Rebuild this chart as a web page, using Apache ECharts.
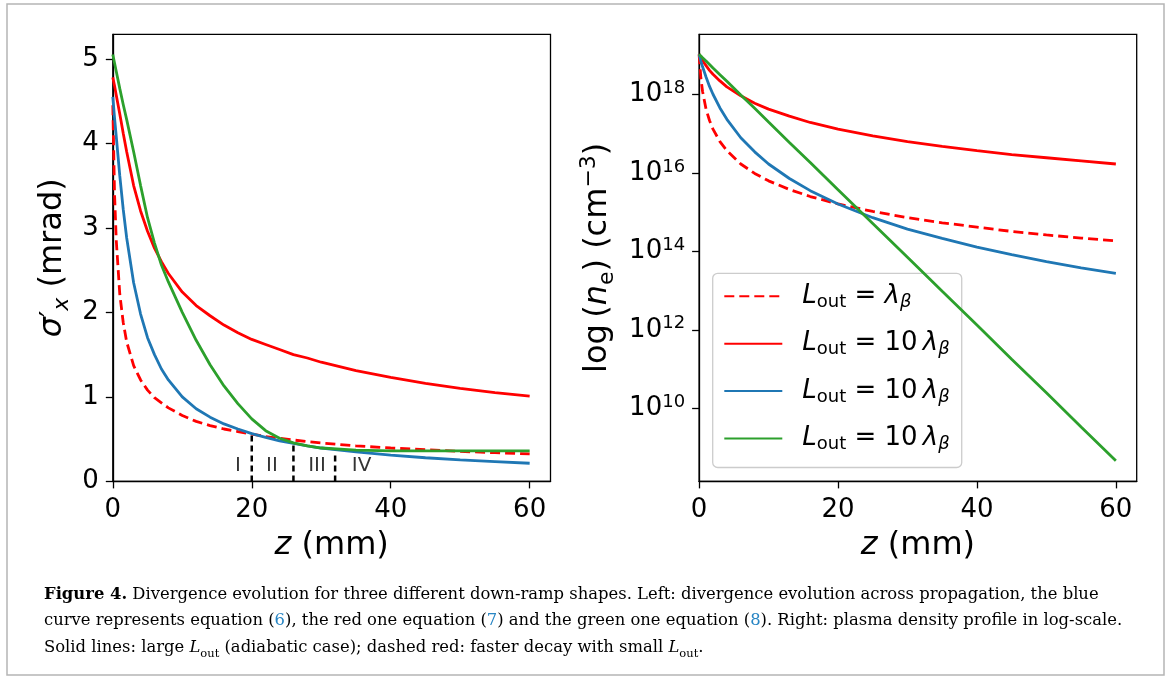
<!DOCTYPE html>
<html>
<head>
<meta charset="utf-8">
<script src="https://cdn.jsdelivr.net/npm/echarts@6/dist/echarts.min.js"></script>
<style>
html, body { margin: 0; padding: 0; background: #fff; }
#main { width: 1167px; height: 680px; }
</style>
</head>
<body>
<div id="main"></div>
<script>
// ---- data ----
// left panel: divergence sigma'_x (mrad) vs z (mm)
var zL = [0, 0.25, 0.5, 1, 1.5, 2, 3, 4, 5, 6, 7, 8, 10, 12, 14, 16, 18, 20, 22, 24, 26, 28, 30, 35, 40, 45, 50, 55, 60];
var rdL = [4.45, 3.4, 2.85, 2.22, 1.88, 1.65, 1.37, 1.2, 1.08, 0.99, 0.93, 0.87, 0.78, 0.71, 0.66, 0.62, 0.59, 0.56, 0.53, 0.51, 0.49, 0.47, 0.455, 0.42, 0.395, 0.375, 0.355, 0.34, 0.325];
var rsL = [4.78, 4.68, 4.57, 4.35, 4.12, 3.9, 3.5, 3.2, 2.96, 2.76, 2.6, 2.46, 2.24, 2.08, 1.96, 1.85, 1.76, 1.68, 1.62, 1.56, 1.5, 1.46, 1.41, 1.31, 1.23, 1.16, 1.1, 1.05, 1.01];
var blL = [4.55, 4.3, 4.08, 3.62, 3.22, 2.88, 2.35, 1.98, 1.7, 1.5, 1.33, 1.2, 1.0, 0.86, 0.76, 0.68, 0.62, 0.565, 0.52, 0.48, 0.45, 0.42, 0.395, 0.35, 0.31, 0.28, 0.255, 0.235, 0.215];
var glL = [5.05, 4.95, 4.85, 4.65, 4.46, 4.28, 3.9, 3.5, 3.12, 2.82, 2.56, 2.36, 2.0, 1.67, 1.38, 1.13, 0.92, 0.74, 0.6, 0.51, 0.455, 0.42, 0.395, 0.37, 0.362, 0.36, 0.36, 0.361, 0.362];

// right panel: log10 of n_e (cm^-3) vs z (mm)
var zR = [0, 0.25, 0.5, 1, 1.5, 2, 3, 4, 6, 8, 10, 13, 16, 20, 25, 30, 35, 40, 45, 50, 55, 60];
var rdR = [19.03, 18.43, 18.08, 17.63, 17.34, 17.12, 16.8, 16.57, 16.23, 15.99, 15.8, 15.58, 15.4, 15.21, 15.02, 14.86, 14.73, 14.62, 14.51, 14.42, 14.34, 14.27];
var rsR = [19.03, 18.95, 18.87, 18.74, 18.62, 18.52, 18.35, 18.2, 17.97, 17.78, 17.63, 17.45, 17.29, 17.12, 16.95, 16.8, 16.68, 16.57, 16.47, 16.39, 16.31, 16.23];
var blR = [19.03, 18.86, 18.71, 18.45, 18.21, 18.01, 17.66, 17.37, 16.9, 16.54, 16.23, 15.86, 15.55, 15.21, 14.86, 14.57, 14.33, 14.11, 13.92, 13.74, 13.58, 13.44];
var glR = [19.03, 18.99, 18.94, 18.86, 18.77, 18.68, 18.51, 18.34, 17.99, 17.65, 17.3, 16.78, 16.27, 15.57, 14.71, 13.85, 12.98, 12.12, 11.25, 10.39, 9.52, 8.66];

// region markers in the left panel
var regionBounds = [20, 26, 32];
var regionTops = [0.57, 0.47, 0.35];
var regionNames = ['I', 'II', 'III', 'IV'];
var regionLabelZ = [18, 22.9, 29.4, 35.8];
var regionLabelY = 0.18;

// ticks
var xTicks = [0, 20, 40, 60];
var yTicksL = [0, 1, 2, 3, 4, 5];
var yTicksR = [10, 12, 14, 16, 18];

// series keys / legend text
var seriesKeys = ['rd', 'rs', 'bl', 'gl'];
var legendLabels = [
  '{i|L}{s|out}{n| = }{i|λ}{si|β}',
  '{i|L}{s|out}{n| = 10\u2009}{i|λ}{si|β}',
  '{i|L}{s|out}{n| = 10\u2009}{i|λ}{si|β}',
  '{i|L}{s|out}{n| = 10\u2009}{i|λ}{si|β}'
];

var FONT = 'DejaVu Sans';
var SERIF = 'DejaVu Serif';
var colors = ['#ff0000', '#ff0000', '#1f77b4', '#2ca02c'];
var dashes = [[10, 5], 'solid', 'solid', 'solid'];

var chart = echarts.init(document.getElementById('main'));

var series = [];
var leftVals = [rdL, rsL, blL, glL];
var rightVals = [rdR, rsR, blR, glR];

// region boundaries (drawn under the curves)
regionBounds.forEach(function (zb, i) {
  series.push({
    type: 'line', xAxisIndex: 0, yAxisIndex: 0,
    data: [[zb, 0], [zb, regionTops[i]]],
    symbol: 'none', silent: true, z: 1,
    lineStyle: { color: '#000', width: 2.5, type: [6, 4] }
  });
});

seriesKeys.forEach(function (k, i) {
  series.push({
    name: k, type: 'line', xAxisIndex: 0, yAxisIndex: 0,
    data: zL.map(function (z, j) { return [z, leftVals[i][j]]; }),
    symbol: 'none', z: 2 + i,
    lineStyle: { color: colors[i], width: 2.8, type: dashes[i] },
    itemStyle: { color: colors[i] }
  });
  series.push({
    name: k, type: 'line', xAxisIndex: 1, yAxisIndex: 1,
    data: zR.map(function (z, j) { return [z, rightVals[i][j]]; }),
    symbol: 'none', z: 2 + i,
    lineStyle: { color: colors[i], width: 2.8, type: dashes[i] },
    itemStyle: { color: colors[i] }
  });
});

// region labels I..IV
series.push({
  type: 'scatter', xAxisIndex: 0, yAxisIndex: 0, symbolSize: 1, silent: true, z: 6,
  itemStyle: { color: 'rgba(0,0,0,0)' },
  data: regionNames.map(function (n, i) { return { name: n, value: [regionLabelZ[i], regionLabelY] }; }),
  label: { show: true, position: 'inside', formatter: '{b}', fontFamily: FONT, fontSize: 20, color: '#000' }
});

function xAxisOpt(idx) {
  return {
    gridIndex: idx, type: 'value', min: 0, max: 63,
    name: '{i|z} (mm)', nameLocation: 'middle', nameGap: 48,
    nameTextStyle: {
      fontFamily: FONT, fontSize: 32, color: '#000',
      rich: { i: { fontFamily: FONT, fontStyle: 'italic', fontSize: 32, color: '#000' } }
    },
    axisLine: { lineStyle: { color: '#000', width: 1.3 } },
    axisTick: { length: 7, lineStyle: { color: '#000', width: 1.3 }, customValues: xTicks },
    axisLabel: { fontFamily: FONT, fontSize: 26, color: '#000', margin: 16, customValues: xTicks },
    splitLine: { show: false }
  };
}

var tickRich = {
  b: { fontFamily: FONT, fontSize: 26, color: '#000', lineHeight: 30, verticalAlign: 'middle' },
  e: { fontFamily: FONT, fontSize: 18, color: '#000', lineHeight: 30, verticalAlign: 'top' }
};

var option = {
  animation: false,
  backgroundColor: '#fff',
  grid: [
    { left: 112.8, top: 34.3, width: 437.7, height: 447.1, show: true, borderColor: '#000', borderWidth: 1.3, backgroundColor: 'transparent' },
    { left: 699.1, top: 34.3, width: 437.6, height: 447.1, show: true, borderColor: '#000', borderWidth: 1.3, backgroundColor: 'transparent' }
  ],
  xAxis: [xAxisOpt(0), xAxisOpt(1)],
  yAxis: [
    {
      gridIndex: 0, type: 'value', min: 0, max: 5.29,
      name: '{g|σ}{p|′}{x|x}{n| (mrad)}', nameLocation: 'middle', nameRotate: 90, nameGap: 40,
      nameTextStyle: {
        fontFamily: FONT, fontSize: 32, color: '#000',
        rich: {
          g: { fontFamily: FONT, fontStyle: 'italic', fontSize: 32, color: '#000', lineHeight: 40, verticalAlign: 'middle' },
          p: { fontFamily: FONT, fontSize: 28, color: '#000', lineHeight: 40, verticalAlign: 'middle' },
          x: { fontFamily: FONT, fontStyle: 'italic', fontSize: 22, color: '#000', lineHeight: 40, verticalAlign: 'bottom' },
          n: { fontFamily: FONT, fontSize: 32, color: '#000', lineHeight: 40, verticalAlign: 'middle' }
        }
      },
      axisLine: { lineStyle: { color: '#000', width: 1.3 } },
      axisTick: { length: 7, lineStyle: { color: '#000', width: 1.3 }, customValues: yTicksL },
      axisLabel: { fontFamily: FONT, fontSize: 26, color: '#000', margin: 14, customValues: yTicksL },
      splitLine: { show: false }
    },
    {
      gridIndex: 1, type: 'value', min: 8.13, max: 19.54,
      name: '{n|log\u2009(}{i|n}{s|e}{n|) (cm}{e|−3}{n|)}', nameLocation: 'middle', nameRotate: 90, nameGap: 81,
      nameTextStyle: {
        fontFamily: FONT, fontSize: 32, color: '#000',
        rich: {
          n: { fontFamily: FONT, fontSize: 32, color: '#000', lineHeight: 40, verticalAlign: 'middle' },
          i: { fontFamily: FONT, fontStyle: 'italic', fontSize: 32, color: '#000', lineHeight: 40, verticalAlign: 'middle' },
          s: { fontFamily: FONT, fontSize: 22, color: '#000', lineHeight: 40, verticalAlign: 'bottom' },
          e: { fontFamily: FONT, fontSize: 22, color: '#000', lineHeight: 40, verticalAlign: 'top' }
        }
      },
      axisLine: { lineStyle: { color: '#000', width: 1.3 } },
      axisTick: { length: 7, lineStyle: { color: '#000', width: 1.3 }, customValues: yTicksR },
      axisLabel: {
        margin: 14, customValues: yTicksR, rich: tickRich,
        formatter: function (v) { return '{b|10}{e|' + v + '}'; }
      },
      splitLine: { show: false }
    }
  ],
  legend: {
    orient: 'vertical', left: 712.7, top: 273.3,
    data: seriesKeys, selectedMode: false,
    formatter: function (name) { return legendLabels[seriesKeys.indexOf(name)]; },
    itemWidth: 58, itemHeight: 14, itemGap: 19.4,
    padding: [10, 12, 14, 10.6],
    backgroundColor: 'rgba(255,255,255,0.8)',
    borderColor: '#cccccc', borderWidth: 1.3, borderRadius: 5,
    itemStyle: { color: 'rgba(0,0,0,0)', borderColor: 'rgba(0,0,0,0)', borderWidth: 0 },
    textStyle: {
      padding: [0, 0, 0, 15],
      rich: {
        i: { fontFamily: FONT, fontStyle: 'italic', fontSize: 26, color: '#000', lineHeight: 30, verticalAlign: 'middle' },
        n: { fontFamily: FONT, fontSize: 26, color: '#000', lineHeight: 30, verticalAlign: 'middle' },
        s: { fontFamily: FONT, fontSize: 18, color: '#000', lineHeight: 30, verticalAlign: 'bottom' },
        si: { fontFamily: FONT, fontStyle: 'italic', fontSize: 18, color: '#000', lineHeight: 30, verticalAlign: 'bottom' }
      }
    }
  },
  graphic: [
    {
      type: 'rect', silent: true,
      shape: { x: 7, y: 4, width: 1157, height: 671 },
      style: { fill: 'none', stroke: '#b5b5b5', lineWidth: 1.5 }
    }
  ],
  series: series
};

// caption
var CAP = 16.4;
var capRich = {
  b: { fontFamily: SERIF, fontWeight: 'bold', fontSize: CAP, fill: '#000', lineHeight: 22, verticalAlign: 'middle' },
  t: { fontFamily: SERIF, fontSize: CAP, fill: '#000', lineHeight: 22, verticalAlign: 'middle' },
  q: { fontFamily: SERIF, fontSize: CAP, fill: '#2785c4', lineHeight: 22, verticalAlign: 'middle' },
  i: { fontFamily: SERIF, fontStyle: 'italic', fontSize: CAP, fill: '#000', lineHeight: 22, verticalAlign: 'middle' },
  s: { fontFamily: SERIF, fontSize: 11.5, fill: '#000', lineHeight: 24, verticalAlign: 'bottom' }
};
var captionLines = [
  '{b|Figure 4.}{t| Divergence evolution for three different down-ramp shapes. Left: divergence evolution across propagation, the blue}',
  '{t|curve represents equation (}{q|6}{t|), the red one equation (}{q|7}{t|) and the green one equation (}{q|8}{t|). Right: plasma density profile in log-scale.}',
  '{t|Solid lines: large }{i|L}{s|out}{t| (adiabatic case); dashed red: faster decay with small }{i|L}{s|out}{t|.}'
];
var captionY = [594.6, 621.2, 647.9];
captionLines.forEach(function (txt, i) {
  option.graphic.push({
    type: 'text', silent: true, x: 44, y: captionY[i],
    style: { text: txt, rich: capRich, fontFamily: SERIF, fontSize: CAP, fill: '#000', align: 'left', verticalAlign: 'middle' }
  });
});

chart.setOption(option);
</script>
</body>
</html>
